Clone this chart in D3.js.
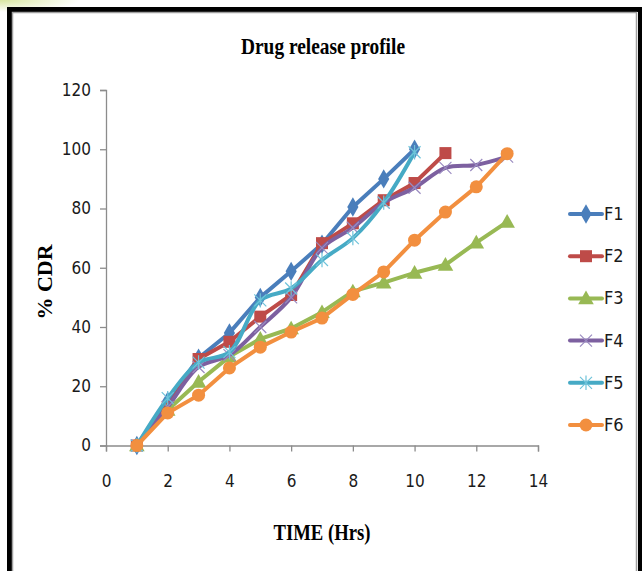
<!DOCTYPE html>
<html>
<head>
<meta charset="utf-8">
<script src="https://cdn.jsdelivr.net/npm/d3@7"></script>
<style>
  body { margin: 0; background: #fff; }
  svg { display: block; }
</style>
</head>
<body>
<div id="chart"></div>
<script>
// data
var hours = [1, 2, 3, 4, 5, 6, 7, 8, 9, 10, 11, 12, 13];
var seriesNames = ["F1", "F2", "F3", "F4", "F5", "F6"];
var f1 = [0, 15, 29.5, 38, 50, 58.8, 68, 80.5, 90, 100];
var f2 = [0, 13, 29.2, 35, 43.5, 50.8, 68.3, 75, 82.8, 88.6, 98.7];
var f3 = [0, 12, 21.5, 30, 36, 39.5, 45, 52, 55, 58.3, 61, 68.5, 75.5];
var f4 = [0, 13, 26.5, 30.5, 40, 50, 66.7, 73.5, 82, 87, 93.7, 94.7, 97.5];
var f5 = [0, 16, 28, 31.5, 49, 53, 62.6, 70, 82, 99];
var f6 = [0, 11, 17, 26.2, 33.2, 38.3, 43, 51, 58.6, 69.3, 78.8, 87.3, 98.5];
var xTicks = [0, 2, 4, 6, 8, 10, 12, 14];
var yTicks = [0, 20, 40, 60, 80, 100, 120];

var colors = ["#4a7ebb", "#be4b48", "#98b954", "#7d60a0", "#46aac5", "#f28f3f"];
var markers = ["diamond", "square", "triangle", "x", "asterisk", "circle"];
var smooth = [false, false, false, true, true, false];

var W = 642, H = 571;
var margin = { top: 90, left: 106 },
width = 538 - 106,
height = 445.5 - 90;

var svg = d3
.select("#chart")
.append("svg")
.attr("width", W)
.attr("height", H);

// faint green glow at top-left corner
var defs = svg.append("defs");
var grad = defs.append("radialGradient").attr("id", "glow").attr("cx", "0").attr("cy", "0").attr("r", "1");
grad.append("stop").attr("offset", "0%").attr("stop-color", "#d8e6a0");
grad.append("stop").attr("offset", "100%").attr("stop-color", "#ffffff");
svg.append("rect").attr("x", 0).attr("y", 0).attr("width", 80).attr("height", 12).attr("fill", "url(#glow)");

// frame
svg.append("path")
.attr("d", "M9.5,600 V9.5 H640")
.attr("fill", "none").attr("stroke", "#000").attr("stroke-width", 5);
svg.append("path")
.attr("d", "M12.5,600 V12.5 H636.5 V600")
.attr("fill", "none").attr("stroke", "#a0a0a0").attr("stroke-width", 1.5);
svg.append("rect").attr("x", 638).attr("y", 7).attr("width", 4).attr("height", 600).attr("fill", "#000");

var g = svg.append("g")
.attr("transform", "translate(" + margin.left + "," + margin.top + ")");

var x = d3.scaleLinear().domain([0, 14]).range([0, width]);
var y = d3.scaleLinear().domain([0, 120]).range([height, 0]);

var tickFont = "'Liberation Sans Narrow', 'Arial Narrow', 'DejaVu Sans Condensed', sans-serif";

// X axis
var xAxis = g.append("g")
.attr("transform", "translate(0," + height + ")")
.call(d3.axisBottom(x).tickValues(xTicks).tickSize(6).tickSizeOuter(6).tickPadding(23));
// Y axis
var yAxis = g.append("g")
.call(d3.axisLeft(y).tickValues(yTicks).tickSize(6).tickSizeOuter(6).tickPadding(9));

[xAxis, yAxis].forEach(function (a) {
  a.select(".domain").attr("stroke", "#8c8c8c").attr("stroke-width", 1.3);
  a.selectAll(".tick line").attr("stroke", "#8c8c8c").attr("stroke-width", 1.3);
  a.selectAll("text")
  .style("font-family", tickFont)
  .style("font-size", "17px")
  .attr("fill", "#1a1a1a");
});

// marker drawing
function drawMarker(sel, type, color, s) {
  if (type === "diamond") {
    sel.append("path").attr("d", d3.symbol(d3.symbolDiamond, s * s * 0.75)()).attr("fill", color);
  } else if (type === "square") {
    sel.append("rect").attr("x", -s / 2).attr("y", -s / 2).attr("width", s).attr("height", s).attr("fill", color);
  } else if (type === "triangle") {
    sel.append("path").attr("d", "M0," + (-s * 0.6) + "L" + (s * 0.6) + "," + (s * 0.45) + "L" + (-s * 0.6) + "," + (s * 0.45) + "Z").attr("fill", color);
  } else if (type === "circle") {
    sel.append("circle").attr("r", s / 2).attr("fill", color);
  } else if (type === "x") {
    var r = s / 2;
    sel.append("path").attr("d", "M" + (-r) + "," + (-r) + "L" + r + "," + r + "M" + (-r) + "," + r + "L" + r + "," + (-r))
    .attr("stroke", "#9a8bc0").attr("stroke-width", 1.2).attr("fill", "none");
  } else if (type === "asterisk") {
    var r2 = s / 2;
    sel.append("path").attr("d", "M" + (-r2) + "," + (-r2) + "L" + r2 + "," + r2 + "M" + (-r2) + "," + r2 + "L" + r2 + "," + (-r2) + "M0," + (-r2 * 1.2) + "L0," + (r2 * 1.2))
    .attr("stroke", "#6fc3da").attr("stroke-width", 1.2).attr("fill", "none");
  }
}

var markerSize = [12, 12, 13, 12, 12, 13];
var allSeries = [f1, f2, f3, f4, f5, f6];

allSeries.forEach(function (vals, i) {
  var pts = vals.map(function (v, j) { return { t: hours[j], v: v }; });
  var line = d3.line()
  .x(function (d) { return x(d.t); })
  .y(function (d) { return y(d.v); })
  .curve(smooth[i] ? d3.curveCatmullRom.alpha(0.5) : d3.curveLinear);

  g.append("path")
  .datum(pts)
  .attr("d", line)
  .attr("fill", "none")
  .attr("stroke", colors[i])
  .attr("stroke-width", 4)
  .attr("stroke-linejoin", "round")
  .attr("stroke-linecap", "round");

  g.append("g")
  .selectAll("g")
  .data(pts)
  .enter()
  .append("g")
  .attr("transform", function (d) { return "translate(" + x(d.t) + "," + y(d.v) + ")"; })
  .each(function () { drawMarker(d3.select(this), markers[i], colors[i], markerSize[i]); });
});

// legend
var legend = svg.append("g").attr("transform", "translate(570,214)");
seriesNames.forEach(function (name, i) {
  var row = legend.append("g").attr("transform", "translate(0," + (i * 42.2) + ")");
  row.append("line").attr("x1", 0).attr("x2", 32).attr("y1", 0).attr("y2", 0)
  .attr("stroke", colors[i]).attr("stroke-width", 4).attr("stroke-linecap", "round");
  var m = row.append("g").attr("transform", "translate(16,0)");
  drawMarker(m, markers[i], colors[i], markerSize[i]);
  row.append("text").attr("x", 34).attr("y", 6)
  .style("font-family", tickFont).style("font-size", "18px").attr("fill", "#1a1a1a")
  .text(name);
});

var serif = "'Liberation Serif', 'Times New Roman', serif";

// title
svg.append("text")
.attr("x", 323).attr("y", 54)
.attr("text-anchor", "middle")
.attr("textLength", 164).attr("lengthAdjust", "spacingAndGlyphs")
.style("font-family", serif).style("font-weight", "bold").style("font-size", "23px")
.text("Drug release profile");

// x label
svg.append("text")
.attr("x", 322).attr("y", 540)
.attr("text-anchor", "middle")
.attr("textLength", 97).attr("lengthAdjust", "spacingAndGlyphs")
.style("font-family", serif).style("font-weight", "bold").style("font-size", "24px")
.text("TIME (Hrs)");

// y label
svg.append("text")
.attr("transform", "translate(52,282) rotate(-90)")
.attr("text-anchor", "middle")
.style("font-family", serif).style("font-weight", "bold").style("font-size", "22px")
.text("% CDR");
</script>
</body>
</html>
